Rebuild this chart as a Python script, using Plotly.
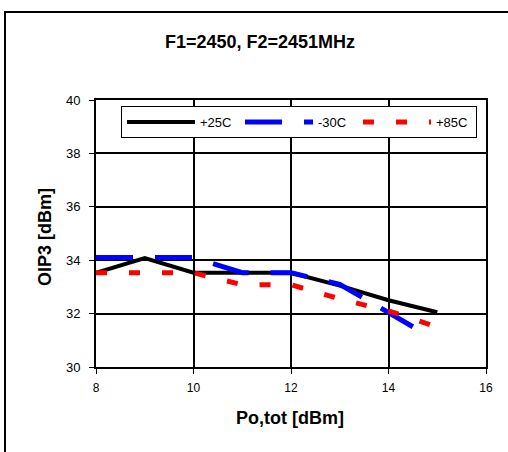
import plotly.graph_objects as go

x_vals = [8, 9, 10, 11, 12, 13, 14, 15]
oip3_p25 = [33.53, 34.08, 33.53, 33.53, 33.53, 33.05, 32.5, 32.05]
x_m30 = [8, 9, 10, 11, 12, 13, 14, 14.6]
oip3_m30 = [34.1, 34.1, 34.1, 33.53, 33.53, 33.1, 32.05, 31.4]
oip3_p85 = [33.53, 33.53, 33.53, 33.08, 33.08, 32.55, 32.1, 31.5]
series_names = ["+25C", "-30C", "+85C"]
x_ticks = [8, 10, 12, 14, 16]
y_ticks = [30, 32, 34, 36, 38, 40]

FONT = "Arial, Liberation Sans, sans-serif"

fig = go.Figure()
fig.add_trace(go.Scatter(x=x_vals, y=oip3_p25, name=series_names[0], mode="lines",
                         line=dict(color="#000000", width=4)))
fig.add_trace(go.Scatter(x=x_m30, y=oip3_m30, name=series_names[1], mode="lines",
                         line=dict(color="#0000FF", width=5, dash="37px,22px")))
fig.add_trace(go.Scatter(x=x_vals, y=oip3_p85, name=series_names[2], mode="lines",
                         line=dict(color="#FF0000", width=5, dash="11px,22px")))

W, H = 508, 452
L, R, T, B = 96, 486, 100, 367
pw, ph = R - L, B - T

def px_x(v):
    return (v - L) / pw

def px_y(v):
    return (B - v) / ph

fig.update_layout(
    width=W, height=H,
    margin=dict(l=L, r=W - R, t=T, b=H - B, pad=0),
    paper_bgcolor="white", plot_bgcolor="white",
    font=dict(family=FONT, size=12, color="black"),
    showlegend=True,
    legend=dict(
        orientation="h", x=px_x(121), y=px_y(106), xanchor="left", yanchor="top",
        bgcolor="white", bordercolor="black", borderwidth=1,
        font=dict(family=FONT, size=13, color="black"),
        itemwidth=68, entrywidth=35, entrywidthmode="pixels",
        traceorder="normal",
    ),
    xaxis=dict(
        range=[8, 16], tickvals=x_ticks, ticktext=[str(t) for t in x_ticks],
        showgrid=True, gridcolor="black", gridwidth=2,
        showline=True, linecolor="black", linewidth=2, mirror=True,
        ticks="outside", ticklen=5, tickwidth=1, tickcolor="black",
        tickfont=dict(family=FONT, size=12), zeroline=False,
        ticklabelstandoff=4,
    ),
    yaxis=dict(
        range=[30, 40], tickvals=y_ticks, ticktext=[str(t) for t in y_ticks],
        showgrid=True, gridcolor="black", gridwidth=2,
        showline=True, linecolor="black", linewidth=2, mirror=True,
        ticks="outside", ticklen=5, tickwidth=1, tickcolor="black",
        tickfont=dict(family=FONT, size=13), zeroline=False,
        ticklabelstandoff=6,
    ),
    shapes=[dict(type="rect", xref="paper", yref="paper",
                 x0=px_x(5), x1=px_x(520), y0=px_y(470), y1=px_y(12),
                 line=dict(color="black", width=2), fillcolor="rgba(0,0,0,0)",
                 layer="below")],
    annotations=[
        dict(text="<b>F1=2450, F2=2451MHz</b>", xref="paper", yref="paper",
             x=px_x(260), y=px_y(42), xanchor="center", yanchor="middle",
             showarrow=False, font=dict(family=FONT, size=18)),
        dict(text="<b>Po,tot [dBm]</b>", xref="paper", yref="paper",
             x=px_x(290), y=px_y(418), xanchor="center", yanchor="middle",
             showarrow=False, font=dict(family=FONT, size=18)),
        dict(text="<b>OIP3 [dBm]</b>", xref="paper", yref="paper",
             x=px_x(45), y=px_y(237), xanchor="center", yanchor="middle",
             showarrow=False, textangle=-90, font=dict(family=FONT, size=18)),
    ],
)

fig.write_html("out.html")
